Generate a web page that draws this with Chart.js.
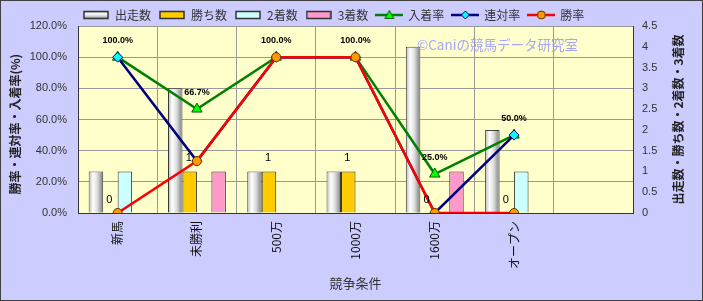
<!DOCTYPE html>
<html>
<head>
<meta charset="utf-8">
<script src="https://cdn.jsdelivr.net/npm/chart.js@4/dist/chart.umd.min.js"></script>
<style>
  html, body { margin: 0; padding: 0; background: #fff; }
  #wrap { width: 703px; height: 301px; box-sizing: border-box; border: 1px solid #404040; background: #ccccff; }
  canvas { display: block; }
</style>
</head>
<body>
<div id="wrap"><canvas id="chart" width="701" height="299"></canvas></div>
<script>
// 競争条件ごとの成績
const categories = ['新馬', '未勝利', '500万', '1000万', '1600万', 'オープン', ''];
const starts   = [1, 3, 1, 1, 4, 2, null];   // 出走数
const wins     = [0, 1, 1, 1, 0, 0, null];   // 勝ち数
const seconds  = [1, 0, 0, 0, 0, 1, null];   // 2着数
const thirds   = [0, 1, 0, 0, 1, 0, null];   // 3着数
const placeRate = [100, 66.7, 100, 100, 25, 50, null];  // 入着率
const rentaiRate = [100, 33.3, 100, 100, 0, 50, null];  // 連対率
const winRate  = [0, 33.3, 100, 100, 0, 0, null];       // 勝率

const FONT = "'Liberation Sans', 'Noto Sans CJK JP', sans-serif";
const JP = "'Noto Sans CJK JP', 'Liberation Sans', sans-serif";
Chart.defaults.font.family = FONT;
Chart.defaults.color = '#333';

// 凡例アイコン
function barIcon(fill) {
  const c = document.createElement('canvas');
  c.width = 26; c.height = 10;
  const g = c.getContext('2d');
  if (fill === 'grad') {
    const gr = g.createLinearGradient(0, 0, 0, 10);
    gr.addColorStop(0, '#999'); gr.addColorStop(0.4, '#fff'); gr.addColorStop(1, '#777');
    g.fillStyle = gr;
  } else {
    g.fillStyle = fill;
  }
  g.fillRect(1, 1, 24, 8);
  g.strokeStyle = '#333'; g.lineWidth = 1.5;
  g.strokeRect(1, 1.5, 24, 7);
  return c;
}
function lineIcon(color, marker, fill, edge) {
  const c = document.createElement('canvas');
  c.width = 28; c.height = 12;
  const g = c.getContext('2d');
  g.strokeStyle = color; g.lineWidth = 2.5;
  g.beginPath(); g.moveTo(0, 6); g.lineTo(28, 6); g.stroke();
  g.fillStyle = fill; g.strokeStyle = edge; g.lineWidth = 1;
  g.beginPath();
  if (marker === 'tri') { g.moveTo(14, 1.5); g.lineTo(18.5, 9.5); g.lineTo(9.5, 9.5); g.closePath(); }
  else if (marker === 'dia') { g.moveTo(14, 2); g.lineTo(18, 6); g.lineTo(14, 10); g.lineTo(10, 6); g.closePath(); }
  else { g.arc(14, 6, 4, 0, Math.PI * 2); }
  g.fill(); g.stroke();
  return c;
}
const legendIcons = [
  barIcon('grad'), barIcon('#ffcc00'), barIcon('#ccffff'), barIcon('#ff99cc'),
  lineIcon('#008000', 'tri', '#00ff00', '#006000'),
  lineIcon('#000080', 'dia', '#00ffff', '#000080'),
  lineIcon('#ff0000', 'circ', '#ff9900', '#663300')
];

const decor = {
  id: 'decor',
  beforeInit(chart) {
    const fit = chart.legend.fit;
    chart.legend.fit = function () {
      fit.call(this);
      this.height = 25;
    };
  },
  afterLayout(chart) {
    // 凡例を左から少し内側へ
    chart.legend.left = 74;
  },
  beforeDraw(chart) {
    const { ctx, chartArea: a } = chart;
    ctx.save();
    ctx.fillStyle = '#ffffcc';
    ctx.fillRect(a.left, a.top, a.right - a.left, a.bottom - a.top);
    ctx.restore();
  },
  afterDatasetDraw(chart, args) {
    if (args.index !== 0) return;
    const { ctx } = chart;
    ctx.save();
    args.meta.data.forEach((el, i) => {
      if (starts[i] == null) return;
      const p = el.getProps(['x', 'y', 'base', 'width'], true);
      const l = p.x - p.width / 2;
      const gr = ctx.createLinearGradient(l, 0, l + p.width, 0);
      gr.addColorStop(0, '#b8b8b8');
      gr.addColorStop(0.3, '#ffffff');
      gr.addColorStop(0.6, '#dcdcdc');
      gr.addColorStop(1, '#7a7a7a');
      ctx.fillStyle = gr;
      ctx.fillRect(l + 1, p.y + 1, p.width - 2, p.base - p.y - 1);
    });
    ctx.restore();
  },
  afterDatasetsDraw(chart) {
    const { ctx, chartArea: a } = chart;
    ctx.save();
    ctx.textAlign = 'center';
    ctx.textBaseline = 'middle';
    ctx.fillStyle = '#000';
    // 入着率ラベル
    ctx.font = "bold 9px " + FONT;
    chart.getDatasetMeta(4).data.forEach((el, i) => {
      if (placeRate[i] == null) return;
      ctx.fillText(placeRate[i].toFixed(1) + '%', el.x, el.y - 17);
    });
    // 勝ち数ラベル
    ctx.font = "11px " + FONT;
    chart.getDatasetMeta(1).data.forEach((el, i) => {
      if (wins[i] == null) return;
      ctx.fillText(String(wins[i]), el.x - 1, el.y - 13);
    });
    // 透かし
    ctx.textAlign = 'left';
    ctx.font = "13.5px " + JP;
    ctx.fillStyle = 'rgba(150,150,255,0.85)';
    ctx.fillText('©Caniの競馬データ研究室', 416, 44);
    // 軸タイトル
    ctx.fillStyle = '#222';
    ctx.font = "bold 12px " + JP;
    const cy = (a.top + a.bottom) / 2;
    ctx.translate(14, cy);
    ctx.rotate(-Math.PI / 2);
    ctx.fillText('勝率・連対率・入着率(%)', -75, 0);
    ctx.setTransform(1, 0, 0, 1, 0, 0);
    ctx.translate(677, cy);
    ctx.rotate(-Math.PI / 2);
    ctx.textAlign = 'center';
    ctx.fillText('出走数・勝ち数・2着数・3着数', 0, 0);
    ctx.restore();
  }
};

const barCommon = {
  type: 'bar',
  yAxisID: 'y1',
  borderColor: '#333',
  borderWidth: 1,
  categoryPercentage: 0.73,
  barPercentage: 1.0,
  order: 10
};

new Chart(document.getElementById('chart'), {
  data: {
    labels: categories,
    datasets: [
      { ...barCommon, label: '出走数', data: starts, backgroundColor: '#dddddd' },
      { ...barCommon, label: '勝ち数', data: wins, backgroundColor: '#ffcc00' },
      { ...barCommon, label: '2着数', data: seconds, backgroundColor: '#ccffff' },
      { ...barCommon, label: '3着数', data: thirds, backgroundColor: '#ff99cc' },
      {
        type: 'line', label: '入着率', data: placeRate, yAxisID: 'y',
        borderColor: '#008000', borderWidth: 2.5,
        pointStyle: 'triangle', pointRadius: 6, pointBackgroundColor: '#00ff00',
        pointBorderColor: '#006000', pointBorderWidth: 1, order: 3
      },
      {
        type: 'line', label: '連対率', data: rentaiRate, yAxisID: 'y',
        borderColor: '#000080', borderWidth: 2.5,
        pointStyle: 'rectRot', pointRadius: 5, pointBackgroundColor: '#00ffff',
        pointBorderColor: '#000080', pointBorderWidth: 1, order: 2
      },
      {
        type: 'line', label: '勝率', data: winRate, yAxisID: 'y',
        borderColor: '#ff0000', borderWidth: 2.5,
        pointStyle: 'circle', pointRadius: 4.5, pointBackgroundColor: '#ff9900',
        pointBorderColor: '#663300', pointBorderWidth: 1, order: 1
      }
    ]
  },
  options: {
    responsive: false,
    devicePixelRatio: 1,
    animation: false,
    layout: { padding: 0 },
    plugins: {
      tooltip: { enabled: false },
      legend: {
        position: 'top',
        align: 'start',
        labels: {
          usePointStyle: true,
          pointStyleWidth: 26,
          padding: 8,
          color: '#333',
          font: { size: 12, family: JP },
          generateLabels(chart) {
            return Chart.defaults.plugins.legend.labels.generateLabels(chart)
              .sort((a, b) => a.datasetIndex - b.datasetIndex)
              .map(l => ({ ...l, pointStyle: legendIcons[l.datasetIndex] }));
          }
        }
      }
    },
    scales: {
      x: {
        offset: true,
        afterFit(s) { s.height = 87; },
        grid: { offset: true, color: '#999', borderDash: [2, 2], drawTicks: false },
        border: { display: true, color: '#333', width: 1 },
        ticks: {
          autoSkip: false, minRotation: 90, maxRotation: 90, padding: 8,
          color: '#111', font: { size: 12, family: JP }
        },
        title: {
          display: true, text: '競争条件', color: '#333',
          font: { size: 13, family: JP }, padding: { top: 0, bottom: 9 }
        }
      },
      y: {
        position: 'left',
        min: 0, max: 120,
        afterFit(s) { s.width = 77; },
        grid: { color: '#999', borderDash: [2, 2], drawTicks: false },
        border: { display: true, color: '#333', width: 1 },
        ticks: {
          stepSize: 20, padding: 11, color: '#333', font: { size: 11 },
          callback: v => v.toFixed(1) + '%'
        }
      },
      y1: {
        position: 'right',
        min: 0, max: 4.5,
        afterFit(s) { s.width = 69; },
        grid: { drawOnChartArea: false, drawTicks: false },
        border: { display: true, color: '#333', width: 1 },
        ticks: {
          stepSize: 0.5, padding: 9, color: '#333', font: { size: 11 },
          callback: v => String(v)
        }
      }
    }
  },
  plugins: [decor]
});
</script>
</body>
</html>
